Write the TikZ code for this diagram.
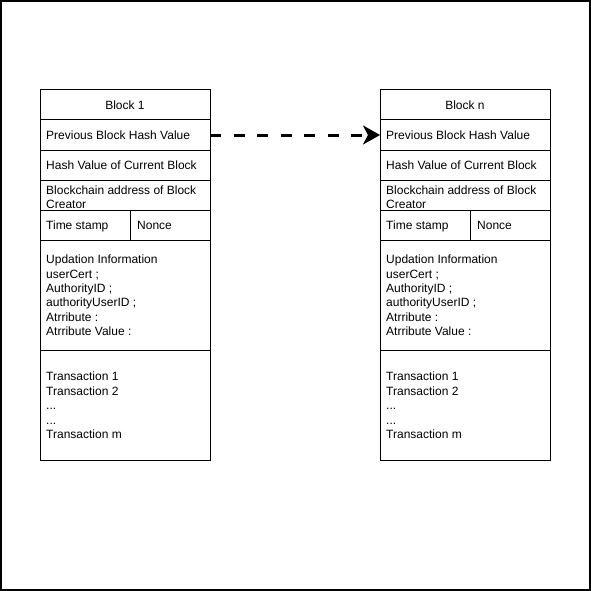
\documentclass[tikz,border=0pt]{standalone}
\usepackage{fontspec}
\setmainfont{Liberation Sans}
\usetikzlibrary{arrows.meta}
\tikzset{
  txt/.style={anchor=west, inner sep=0pt, text height=8.6pt, text depth=0pt, font=\fontsize{12pt}{14.4pt}\selectfont},
  ctxt/.style={anchor=center, inner sep=0pt, text height=8.6pt, text depth=0pt, font=\fontsize{12pt}{14.4pt}\selectfont},
  ml/.style={anchor=west, inner sep=0pt, align=left, font=\fontsize{12pt}{14.4pt}\selectfont},
  link/.style={line width=3pt, dash pattern=on 11pt off 12.5pt, -{Stealth[length=17pt,width=19pt,inset=5pt]}}
}
\begin{document}
\begin{tikzpicture}[x=1pt,y=-1pt]
\useasboundingbox (0,0) rectangle (591,591);
\draw[line width=2pt] (1,1) rectangle (590,590);
\foreach \bx/\name/\title in {40/L/Block 1, 380/R/Block n}{
  \draw[line width=1pt] (\bx,90) rectangle ++(170,370);
  \foreach \yy in {120,150,180,210,240,350}{
    \draw[line width=1pt] (\bx,\yy) -- ++(170,0);
  }
  \draw[line width=1pt] (\bx+90,210) -- (\bx+90,240);
  \node[ctxt] (\name title) at (\bx+85,105) {\title};
  \node[txt] (\name prev) at (\bx+6,135) {Previous Block Hash Value};
  \node[txt] (\name cur) at (\bx+6,165) {Hash Value of Current Block};
  \node[ml] (\name addr) at (\bx+6,197) {Blockchain address of Block\\Creator};
  \node[txt] (\name ts) at (\bx+6,225) {Time stamp};
  \node[txt] (\name nonce) at (\bx+97,225) {Nonce};
  \node[ml] (\name upd) at (\bx+6,295.5) {Updation Information\\userCert ;\\AuthorityID ;\\authorityUserID ;\\Atrribute :\\Atrribute Value :};
  \node[ml] (\name tx) at (\bx+6,405.5) {Transaction 1\\Transaction 2\\...\\...\\Transaction m};
  \coordinate (\name in) at (\bx,135);
  \coordinate (\name out) at (\bx+170,135);
}
\draw[link] (Lout) -- (Rin);
\end{tikzpicture}
\end{document}
